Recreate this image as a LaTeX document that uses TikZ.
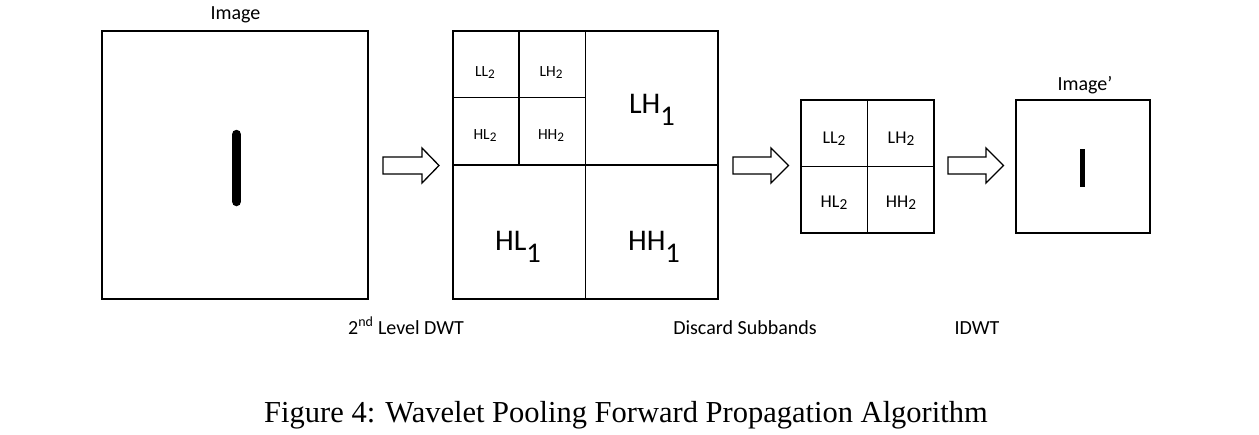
\documentclass[tikz,border=0pt]{standalone}
\usepackage{fontspec}
\usepackage{graphicx}
\setmainfont{Carlito}
\newfontfamily\capfont{Liberation Serif}
\newcommand\smsub[1]{\raisebox{-0.16em}{\scalebox{0.85}{#1}}}
\newcommand\bgsub[1]{\raisebox{-0.42em}{\scalebox{0.95}{#1}}}
\begin{document}
\begin{tikzpicture}[x=1pt,y=-1pt,
  box/.style={draw=black,line width=1.3pt,inner sep=0pt},
  divline/.style={black,line width=1.3pt},
  blockarr/.style={draw=black,line width=1.3pt,fill=white,line join=miter},
  lbl/.style={inner sep=0pt,anchor=base,font=\fontsize{20}{24}\selectfont},
  smallband/.style={inner sep=0pt,anchor=base,font=\fontsize{15.5}{19}\selectfont},
  midband/.style={inner sep=0pt,anchor=base,font=\fontsize{18}{22}\selectfont},
  bigband/.style={inner sep=0pt,anchor=base,font=\fontsize{30}{36}\selectfont}]
\useasboundingbox (0,0) rectangle (1259,434);
% original image
\node[box,minimum width=266pt,minimum height=268pt] (img) at (235,165) {};
\node[lbl] (imglbl) at (235.5,19) {Image};
\draw[line width=9.5pt,line cap=round] (236.5,134.5) -- (236.5,201.5);
% arrow 1
\draw[blockarr] (383,157) -- (422,157) -- (422,148) -- (439,165.5) -- (422,183) -- (422,174) -- (383,174) -- cycle;
% DWT
\node[box,minimum width=265pt,minimum height=268pt] (dwt) at (585.5,165) {};
\draw[divline] (dwt.north) -- (dwt.south);
\draw[divline] (dwt.west) -- (dwt.east);
\coordinate (q1) at (519,31);
\coordinate (q2) at (519,165);
\coordinate (q3) at (453,97.5);
\coordinate (q4) at (585.5,97.5);
\draw[divline] (q1) -- (q2);
\draw[divline] (q3) -- (q4);
\node[smallband] (ll2a) at (485,76) {LL\smsub{2}};
\node[smallband] (lh2a) at (551,76) {LH\smsub{2}};
\node[smallband] (hl2a) at (485,139) {HL\smsub{2}};
\node[smallband] (hh2a) at (551,139) {HH\smsub{2}};
\node[bigband] (lh1) at (652,113) {LH\bgsub{1}};
\node[bigband] (hl1) at (518,250) {HL\bgsub{1}};
\node[bigband] (hh1) at (654,250) {HH\bgsub{1}};
% arrow 2
\draw[blockarr] (733,157) -- (771,157) -- (771,148) -- (788.5,165.5) -- (771,183) -- (771,174) -- (733,174) -- cycle;
% discard
\node[box,minimum width=133pt,minimum height=133pt] (dis) at (867.5,166.5) {};
\draw[divline] (dis.north) -- (dis.south);
\draw[divline] (dis.west) -- (dis.east);
\node[midband] (ll2b) at (834,143) {LL\smsub{2}};
\node[midband] (lh2b) at (901,143) {LH\smsub{2}};
\node[midband] (hl2b) at (834,207) {HL\smsub{2}};
\node[midband] (hh2b) at (901,207) {HH\smsub{2}};
% arrow 3
\draw[blockarr] (948,157) -- (986,157) -- (986,148) -- (1003.5,165.5) -- (986,183) -- (986,174) -- (948,174) -- cycle;
% result image
\node[box,minimum width=134pt,minimum height=133pt] (res) at (1083,166.5) {};
\node[lbl] (reslbl) at (1085,90) {Image’};
\draw[line width=5pt] (1082.5,149) -- (1082.5,187);
% step labels
\node[lbl] (s1) at (406,334) {2\textsuperscript{nd} Level DWT};
\node[lbl] (s2) at (745,334) {Discard Subbands};
\node[lbl] (s3) at (977,334) {IDWT};
% caption
\node[inner sep=0pt,anchor=base,font=\capfont\fontsize{30.5}{36}\selectfont] (cap) at (626,422) {Figure 4: Wavelet Pooling Forward Propagation Algorithm};
\end{tikzpicture}
\end{document}
